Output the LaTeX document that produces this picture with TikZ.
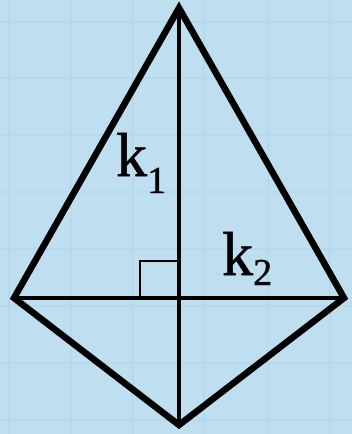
\documentclass[tikz,border=0pt]{standalone}
\usepackage{fontspec}
\setmainfont{Liberation Serif}
\newfontfamily\labelfont[FakeBold=0.9]{Liberation Serif}
\usepackage{tikz}
\usetikzlibrary{calc}
\definecolor{paper}{HTML}{BFDFF1}
\definecolor{gridline}{HTML}{B7D9ED}
\newcommand{\ksub}[2]{k\raisebox{-#2}{\fontsize{38}{38}\selectfont #1}}

\begin{document}
\begin{tikzpicture}[x=1pt, y=-1pt, line join=miter,
    outline/.style={line width=6.5pt, black},
    diag/.style={line width=3.2pt, black},
    lbl/.style={font=\labelfont\fontsize{62}{62}\selectfont, inner sep=0pt}]
  %% Background and faint grid
  \fill[paper] (0,0) rectangle (352,434);
  \useasboundingbox (0,0) rectangle (352,434);
  \foreach \x in {9, 71, 133, 204, 268, 330}{
    \draw[gridline, line width=1.5pt] (\x,0) -- (\x,434);
  }
  \foreach \y in {22, 78, 135, 192, 249, 306, 363, 420}{
    \draw[gridline, line width=1.5pt] (0,\y) -- (352,\y);
  }

  %% Vertices of the kite
  \coordinate (T) at (179,8);
  \coordinate (L) at (14,298);
  \coordinate (R) at (344,298);
  \coordinate (B) at (179,425);
  \coordinate (M) at (179,298);

  %% Diagonals
  \draw[diag] (T) -- (B);
  \draw[diag] (L) -- (R);
  %% Right angle mark
  \draw[line width=2.2pt] ($(M)+(-39,0)$) -- ($(M)+(-39,-37)$) -- ($(M)+(0,-37)$);

  %% Outline
  \draw[outline] (T) -- (R) -- (B) -- (L) -- cycle;

  %% Labels
  \node[lbl, anchor=base west] (k1) at (116,176) {\ksub{1}{17pt}};
  \node[lbl, anchor=base west] (k2) at (222,275) {\ksub{2}{10pt}};
\end{tikzpicture}
\end{document}
